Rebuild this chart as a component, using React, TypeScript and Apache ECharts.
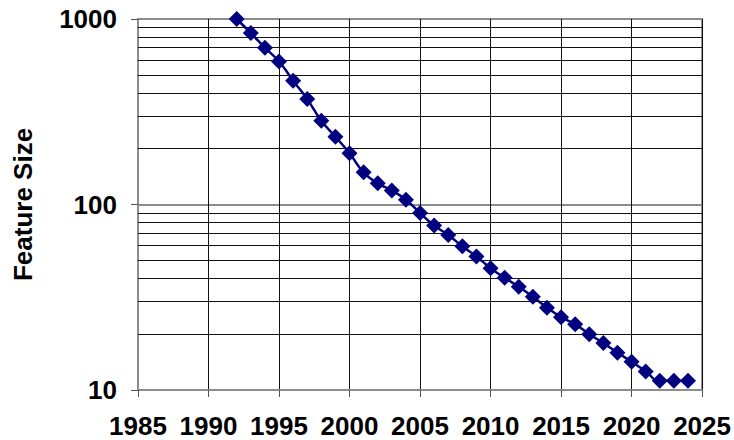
import React, { useEffect, useRef } from "react";
import * as echarts from "echarts";

const years = [
  1992, 1993, 1994, 1995, 1996, 1997, 1998, 1999, 2000, 2001, 2002,
  2003, 2004, 2005, 2006, 2007, 2008, 2009, 2010, 2011, 2012, 2013,
  2014, 2015, 2016, 2017, 2018, 2019, 2020, 2021, 2022, 2023, 2024,
];
const featureSize = [
  1000, 840, 700, 590, 465, 370, 283, 232, 189, 149, 130,
  119, 106, 90, 77, 68.5, 59.5, 52.5, 45.3, 40.3, 36, 31.8,
  27.8, 24.7, 22.6, 20, 17.9, 15.9, 14.2, 12.6, 11.2, 11.2, 11.2,
];
// Intermediate log gridlines (2..9 of each decade)
const minorGrid = [20, 30, 40, 50, 60, 70, 80, 90, 200, 300, 400, 500, 600, 700, 800, 900];

const FONT = "'Liberation Sans', Arial, sans-serif";

export default function App() {
  const ref = useRef<HTMLDivElement>(null);

  useEffect(() => {
    if (!ref.current) return;
    const chart = echarts.init(ref.current, undefined, { renderer: "svg" });
    chart.setOption({
      animation: false,
      backgroundColor: "#ffffff",
      grid: {
        left: 138,
        right: 31,
        top: 19,
        bottom: 50,
        show: true,
        borderColor: "#8c8c8c",
        borderWidth: 2,
      },
      xAxis: {
        type: "value",
        min: 1985,
        max: 2025,
        interval: 5,
        axisLine: { show: true, lineStyle: { color: "#8c8c8c", width: 2 } },
        axisTick: { show: true, length: 7, lineStyle: { color: "#555", width: 1 } },
        axisLabel: {
          margin: 25,
          color: "#000",
          fontFamily: FONT,
          fontWeight: "bold",
          fontSize: 26,
          lineHeight: 22,
          formatter: (v: number) => String(v),
        },
        splitLine: { show: true, lineStyle: { color: "#111", width: 1 } },
      },
      yAxis: {
        type: "log",
        logBase: 10,
        min: 10,
        max: 1000,
        name: "Feature Size",
        nameLocation: "middle",
        nameGap: 115,
        nameRotate: 90,
        nameTextStyle: {
          color: "#000",
          fontFamily: FONT,
          fontWeight: "bold",
          fontSize: 26,
          verticalAlign: "middle",
        },
        axisLine: { show: true, lineStyle: { color: "#8c8c8c", width: 2 } },
        axisTick: { show: true, length: 7, lineStyle: { color: "#555", width: 1 } },
        axisLabel: {
          margin: 21,
          color: "#000",
          fontFamily: FONT,
          fontWeight: "bold",
          fontSize: 26,
          formatter: (v: number) => String(Math.round(v)),
        },
        splitLine: { show: true, lineStyle: { color: "#8c8c8c", width: 2 } },
      },
      series: [
        {
          type: "line",
          data: years.map((y, i) => [y, featureSize[i]]),
          smooth: true,
          symbol: "diamond",
          symbolSize: 16,
          lineStyle: { color: "#000080", width: 2.5 },
          itemStyle: { color: "#000080" },
          z: 5,
          markLine: {
            silent: true,
            symbol: "none",
            label: { show: false },
            lineStyle: { color: "#111", width: 1, type: "solid" },
            data: minorGrid.map((v) => ({ yAxis: v })),
            z: 1,
          },
        },
      ],
    });
    return () => chart.dispose();
  }, []);

  return (
    <div
      ref={ref}
      style={{ position: "fixed", left: 0, top: 0, width: 734, height: 440 }}
    />
  );
}
